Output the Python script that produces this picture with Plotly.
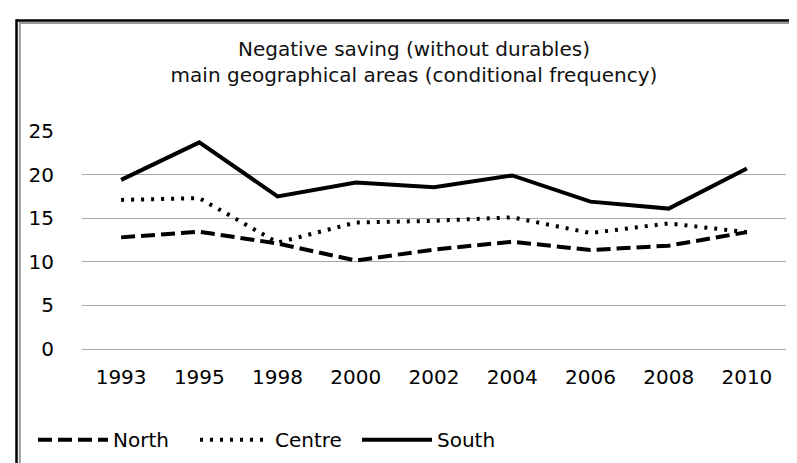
import plotly.graph_objects as go

years = ["1993", "1995", "1998", "2000", "2002", "2004", "2006", "2008", "2010"]
north = [12.8, 13.45, 12.1, 10.15, 11.4, 12.3, 11.35, 11.85, 13.4]
centre = [17.1, 17.3, 12.2, 14.5, 14.7, 15.1, 13.3, 14.4, 13.4]
south = [19.4, 23.7, 17.5, 19.1, 18.55, 19.9, 16.9, 16.1, 20.7]
y_ticks = [0, 5, 10, 15, 20, 25]

FONT = "DejaVu Sans"
W, H = 797, 463
L, R, T, B = 74, 19, 123, 117.5
pw, ph = W - L - R, H - T - B

def px(x):
    return (x - L) / pw

def py(y):
    return (H - B - y) / ph

fig = go.Figure()
fig.add_trace(go.Scatter(x=years, y=north, name="North", mode="lines",
                         line=dict(color="black", width=4, dash="14px,6px")))
fig.add_trace(go.Scatter(x=years, y=centre, name="Centre", mode="lines",
                         line=dict(color="black", width=4, dash="3px,7px")))
fig.add_trace(go.Scatter(x=years, y=south, name="South", mode="lines",
                         line=dict(color="black", width=4)))

shapes = [
    dict(type="line", xref="paper", yref="paper", x0=px(8.5), x1=px(800), y0=py(10.2), y1=py(10.2),
         line=dict(color="black", width=2.5)),
    dict(type="line", xref="paper", yref="paper", x0=px(11.5), x1=px(800), y0=py(12.8), y1=py(12.8),
         line=dict(color="#9a9a9a", width=2)),
    dict(type="line", xref="paper", yref="paper", x0=px(8.5), x1=px(8.5), y0=py(9), y1=py(470),
         line=dict(color="black", width=2.5)),
    dict(type="line", xref="paper", yref="paper", x0=px(11.8), x1=px(11.8), y0=py(11.8), y1=py(470),
         line=dict(color="#9a9a9a", width=2)),
]

fig.update_layout(
    width=W, height=H,
    margin=dict(l=L, r=R, t=T, b=B),
    paper_bgcolor="white", plot_bgcolor="white",
    font=dict(family=FONT, color="black", size=20),
    title=dict(text="Negative saving (without durables)<br>main geographical areas (conditional frequency)",
               xref="container", yref="container", x=406 / W, y=1 - 48 / H,
               xanchor="center", yanchor="middle",
               font=dict(family=FONT, size=20, color="#111111")),
    xaxis=dict(type="category", range=[-0.5, len(years) - 0.5], showgrid=False, showline=False,
               ticks="", ticklabelstandoff=14, tickfont=dict(size=20)),
    yaxis=dict(range=[0, 25], tickvals=y_ticks, showgrid=True, gridcolor="#a6a6a6", gridwidth=1,
               zeroline=True, zerolinecolor="#a6a6a6", zerolinewidth=1,
               showline=False, ticks="", ticklabelstandoff=27,
               tickfont=dict(size=20)),
    showlegend=True,
    legend=dict(orientation="h", x=px(25), y=py(438), xanchor="left", yanchor="middle",
                font=dict(size=20), itemwidth=70, entrywidth=77, entrywidthmode="pixels"),
    shapes=shapes,
)

fig.write_html("out.html")
